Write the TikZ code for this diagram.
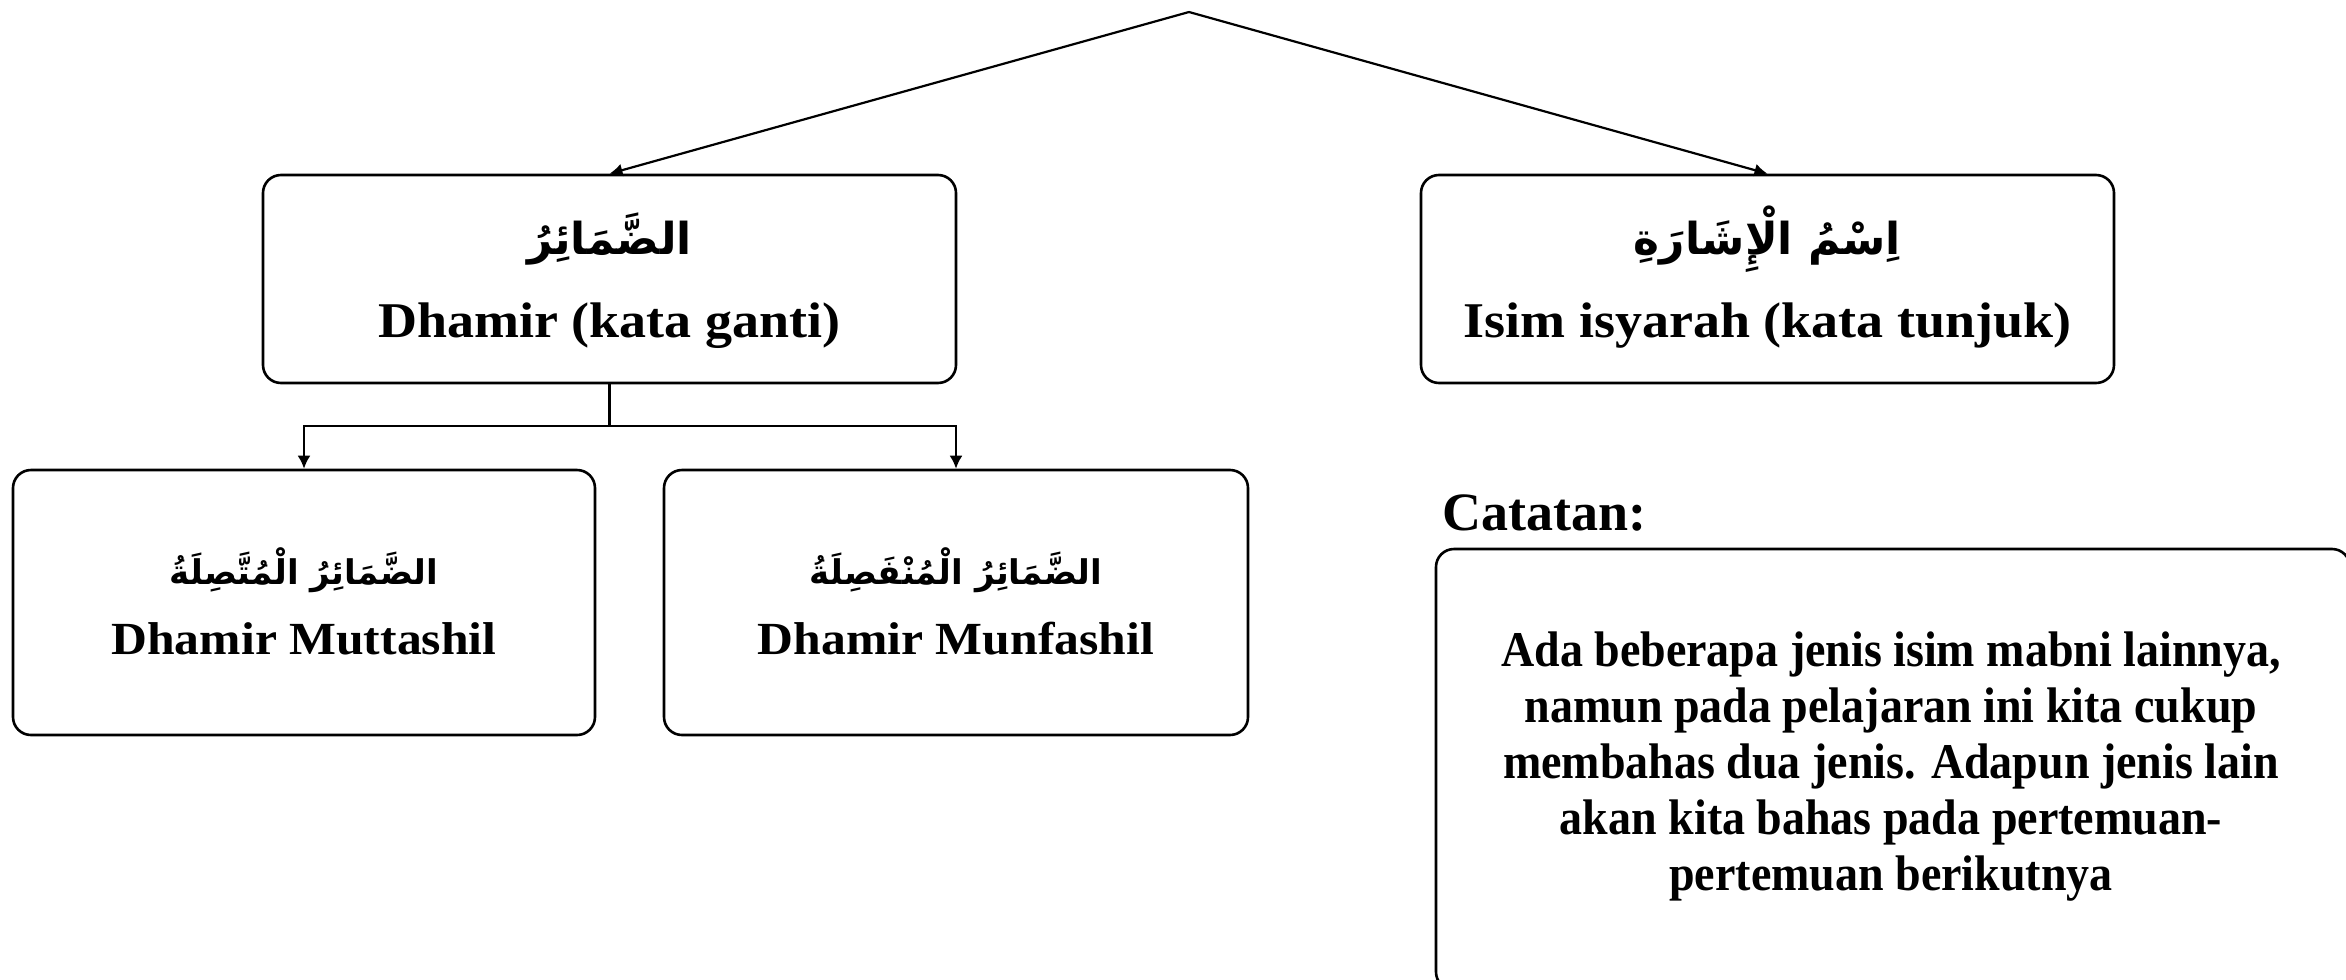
\documentclass[tikz,border=0pt]{standalone}
\usepackage{fontspec}
\setmainfont{Liberation Serif}
\newfontfamily\latinwide[FakeStretch=1.08]{Liberation Serif}
\newfontfamily\latinnarrow[FakeStretch=0.92]{Liberation Serif}
\newfontfamily\arabicfont[Script=Arabic]{DejaVu Sans}
\TeXXeTstate=1
\usetikzlibrary{arrows.meta}
\begin{document}
\begin{tikzpicture}[x=0.5pt,y=-0.5pt,
  boxst/.style={draw, line width=1.3pt, rounded corners=9pt, inner sep=0pt},
  arr/.style={line width=1.1pt, -{Latex[length=6.5pt,width=6.5pt]}},
  lnk/.style={line width=1.1pt},
  entop/.style={font=\fontsize{25}{30}\latinwide\bfseries, inner sep=0pt},
  ensub/.style={font=\fontsize{23}{28}\latinwide\bfseries, inner sep=0pt},
  catst/.style={font=\fontsize{27}{32}\selectfont\bfseries, inner sep=0pt},
  artop/.style={font=\fontsize{22}{30}\arabicfont\bfseries, inner sep=0pt},
  arsub/.style={font=\fontsize{17}{24}\arabicfont\bfseries, inner sep=0pt},
  notest/.style={font=\fontsize{25}{28}\latinnarrow\bfseries, align=center, inner sep=0pt}
]
\useasboundingbox (0,0) rectangle (2346,980);
\coordinate (apex) at (1189,12);
% top-level boxes
\node[boxst, minimum width=346.5pt, minimum height=104pt] (b1) at (609.5,279) {};
\node[boxst, minimum width=346.5pt, minimum height=104pt] (b2) at (1767.5,279) {};
\node[artop] (b1a) at (609.5,239) {\beginR الضَّمَائِرُ\endR};
\node[entop] (b1e) at (609.5,326) {Dhamir (kata ganti)};
\node[artop] (b2a) at (1767.5,239) {\beginR اِسْمُ الْإِشَارَةِ\endR};
\node[entop] (b2e) at (1767.5,326) {Isim isyarah (kata tunjuk)};
% second-level boxes
\node[boxst, minimum width=291pt, minimum height=132.5pt] (b3) at (304,602.5) {};
\node[boxst, minimum width=292pt, minimum height=132.5pt] (b4) at (956,602.5) {};
\node[arsub] (b3a) at (304,570) {\beginR الضَّمَائِرُ الْمُتَّصِلَةُ\endR};
\node[ensub] (b3e) at (304,639) {Dhamir Muttashil};
\node[arsub] (b4a) at (956,570) {\beginR الضَّمَائِرُ الْمُنْفَصِلَةُ\endR};
\node[ensub] (b4e) at (956,639) {Dhamir Munfashil};
% connectors
\draw[arr] (apex) -- (b1.north);
\draw[arr] (apex) -- (b2.north);
\coordinate (j) at (609.5,426);
\draw[lnk] (b1.south) -- (j);
\draw[arr] (j) -| (b3.north);
\draw[arr] (j) -| (b4.north);
% note
\node[catst, anchor=west] (cat) at (1442,513) {Catatan:};
\node[boxst, minimum width=457pt, minimum height=220.5pt] (note) at (1893,769.5) {};
\node[notest] (notetext) at (1891,767) {Ada beberapa jenis isim mabni lainnya,\\ namun pada pelajaran ini kita cukup\\ membahas dua jenis. Adapun jenis lain\\ akan kita bahas pada pertemuan-\\ pertemuan berikutnya};
\end{tikzpicture}
\end{document}
